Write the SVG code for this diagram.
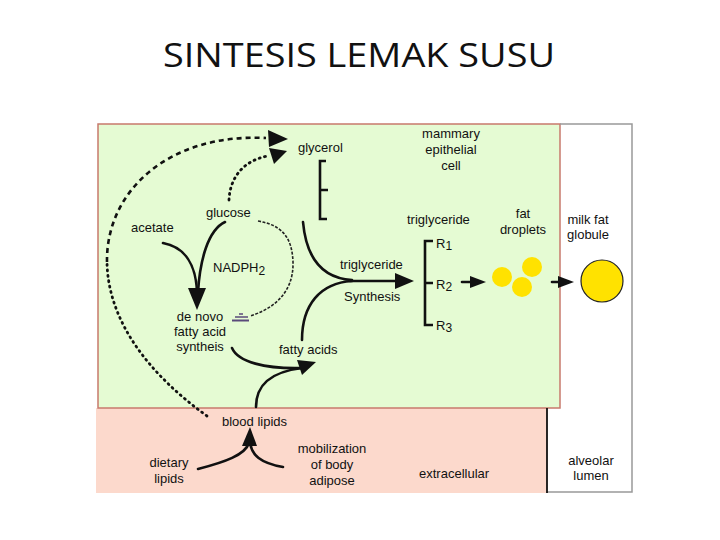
<svg xmlns="http://www.w3.org/2000/svg" width="720" height="540" viewBox="0 0 720 540">
<style>
.t{font-family:"Liberation Sans",Arial,sans-serif;font-size:13px;fill:#111}
.m{text-anchor:middle}
.title{font-family:"Open Sans","Liberation Sans",sans-serif;font-size:33px;fill:#111}
.ln{fill:none;stroke:#111;stroke-width:2.6;stroke-linecap:round}
.br{fill:none;stroke:#111;stroke-width:2.6}
.dash{fill:none;stroke:#111;stroke-width:2.6;stroke-dasharray:5 4}
.dot{fill:none;stroke:#111;stroke-width:2.8;stroke-dasharray:1 4.5;stroke-linecap:round}
.thin{fill:none;stroke:#222;stroke-width:1.6;stroke-dasharray:3 1.5}
.ah{fill:#111}
.drop{fill:#ffe200}
</style>
<rect width="720" height="540" fill="#fff"/>
<text class="title" x="163" y="67" textLength="392" lengthAdjust="spacingAndGlyphs">SINTESIS LEMAK SUSU</text>

<g id="regions">
<rect x="96" y="408" width="451" height="85" fill="#fcd9cc"/>
<rect x="98" y="124" width="462" height="284" fill="#e5fbd3" stroke="#c77a6c" stroke-width="1.5"/>
<path d="M560 124 H632 V492 H547" fill="none" stroke="#999" stroke-width="1.5"/>
<line x1="547" y1="408" x2="547" y2="493" stroke="#111" stroke-width="1.8"/>
</g>

<g id="connectors">
<path class="dot" d="M207 416 C150 375 108 322 107 262"/>
<path class="dash" d="M107 262 C106 190 170 133 266 138"/>
<polygon class="ah" points="268,130 288,139 269,147"/>
<path class="dot" d="M229 200 C230 176 245 160 268 156"/>
<polygon class="ah" points="269,148 287,151 274,164"/>
<path class="ln" d="M163 243 C185 247 196 265 197 292"/>
<path class="ln" d="M225 222 C208 230 200 260 198 292"/>
<polygon class="ah" points="188,288 206,288 197,310"/>
<path class="thin" d="M258 221 C280 225 292 235 293 262 C294 295 270 310 250 316"/>
<path class="ln" d="M303 222 C306 255 320 278 352 280"/>
<path class="ln" d="M302 340 C302 305 320 283 352 281"/>
<path class="ln" d="M350 281 H398"/>
<polygon class="ah" points="395,273 414,281 395,289"/>
<path class="ln" d="M232 348 C238 362 265 369 302 368"/>
<path class="ln" d="M256 407 C256 385 270 372 302 368"/>
<polygon class="ah" points="297,360 316,362 302,375"/>
<path class="ln" d="M198 469 C225 462 245 455 249 443"/>
<path class="ln" d="M283 467 C260 463 252 455 250 443"/>
<polygon class="ah" points="242,446 257,446 250,427"/>
<path class="ln" d="M462 282 H472"/>
<polygon class="ah" points="470,276 486,282 470,288"/>
<path class="ln" d="M552 282 H560"/>
<polygon class="ah" points="558,276 574,282 558,288"/>
</g>

<g id="nadph-block">
<line x1="239" y1="314" x2="243" y2="314" stroke="#5a4a7a" stroke-width="1.5"/>
<line x1="235" y1="317" x2="248" y2="317" stroke="#5a4a7a" stroke-width="1.5"/>
<line x1="232" y1="320.5" x2="249" y2="320.5" stroke="#5a4a7a" stroke-width="2"/>
</g>

<g id="glycerol">
<text class="t" x="298" y="152">glycerol</text>
<path class="br" d="M326 161 H320 V219 H327 M320 190 H328"/>
</g>

<g id="mammary-cell">
<text class="t m" x="451" y="138">mammary</text>
<text class="t m" x="451" y="154">epithelial</text>
<text class="t m" x="451" y="170">cell</text>
</g>

<g id="triglyceride">
<text class="t" x="407" y="224">triglyceride</text>
<path class="br" d="M433 241 H425 V325 H433 M425 283 H433"/>
<text class="t" x="436" y="248">R<tspan font-size="12" dy="2">1</tspan></text>
<text class="t" x="436" y="289">R<tspan font-size="12" dy="2">2</tspan></text>
<text class="t" x="436" y="330">R<tspan font-size="12" dy="2">3</tspan></text>
</g>

<g id="fat-droplets">
<text class="t m" x="523" y="218">fat</text>
<text class="t m" x="523" y="234">droplets</text>
<circle class="drop" cx="502" cy="277" r="10"/>
<circle class="drop" cx="532" cy="267" r="10"/>
<circle class="drop" cx="522" cy="287" r="10"/>
</g>

<g id="milk-fat-globule">
<text class="t m" x="588" y="224">milk fat</text>
<text class="t m" x="588" y="239">globule</text>
<circle cx="602" cy="281" r="21" fill="#ffe200" stroke="#222" stroke-width="1.2"/>
</g>

<g id="acetate"><text class="t" x="131" y="232">acetate</text></g>
<g id="glucose"><text class="t" x="206" y="217">glucose</text></g>
<g id="nadph"><text class="t" x="213" y="272">NADPH<tspan font-size="12" dy="3">2</tspan></text></g>

<g id="trig-synthesis">
<text class="t" x="340" y="269">triglyceride</text>
<text class="t" x="344" y="301">Synthesis</text>
</g>

<g id="de-novo">
<text class="t m" x="200" y="321">de novo</text>
<text class="t m" x="200" y="336">fatty acid</text>
<text class="t m" x="200" y="351">syntheis</text>
</g>

<g id="fatty-acids"><text class="t" x="279" y="354">fatty acids</text></g>
<g id="blood-lipids"><text class="t" x="222" y="426">blood lipids</text></g>

<g id="dietary-lipids">
<text class="t m" x="169" y="467">dietary</text>
<text class="t m" x="169" y="483">lipids</text>
</g>

<g id="mobilization">
<text class="t m" x="332" y="453">mobilization</text>
<text class="t m" x="332" y="469">of body</text>
<text class="t m" x="332" y="485">adipose</text>
</g>

<g id="extracellular"><text class="t" x="419" y="478">extracellular</text></g>

<g id="alveolar-lumen">
<text class="t m" x="591" y="465">alveolar</text>
<text class="t m" x="591" y="480">lumen</text>
</g>
</svg>
